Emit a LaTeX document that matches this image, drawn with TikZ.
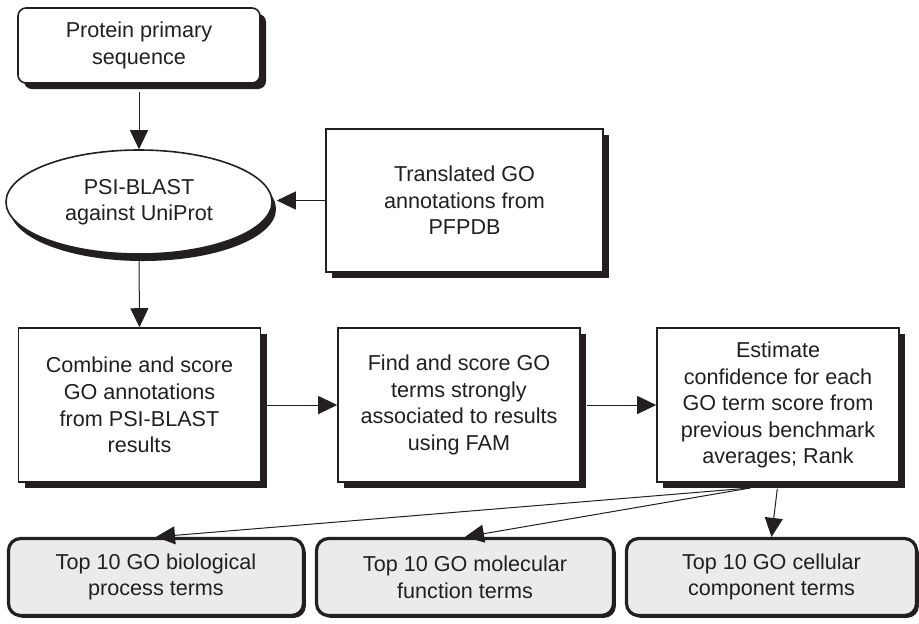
\documentclass[tikz,border=0pt]{standalone}
\usepackage{fontspec}
\setmainfont{Liberation Sans}
\usepackage{tikz}
\usetikzlibrary{arrows.meta,shapes.geometric,shadows}
\definecolor{ink}{RGB}{35,31,32}
\definecolor{paper}{RGB}{235,235,235}

\begin{document}
\begin{tikzpicture}[x=0.5pt,y=-0.5pt,font=\fontsize{10.8}{13.3}\selectfont,color=ink]

\tikzset{box/.style = {shape=rectangle,draw=ink,fill=white,line width=0.8pt,align=center,inner sep=0pt,
  minimum width=121pt,minimum height=77pt,
  drop shadow={shadow xshift=3pt,shadow yshift=-3pt,fill=ink,opacity=1}}}
\tikzset{roundbox/.style = {box,rounded corners=4pt}}
\tikzset{oval/.style = {shape=ellipse,draw=ink,fill=white,line width=0.8pt,align=center,inner sep=0pt,
  minimum width=133pt,minimum height=52pt,
  drop shadow={shadow xshift=2pt,shadow yshift=-3.5pt,fill=ink,opacity=1}}}
\tikzset{result/.style = {shape=rectangle,draw=ink,fill=paper,line width=1.6pt,rounded corners=6pt,
  align=center,inner sep=0pt,minimum height=38.5pt,
  drop shadow={shadow xshift=1.2pt,shadow yshift=-1.2pt,fill=ink,opacity=1}}}
\tikzset{arc/.style = {-{Triangle[length=9.5pt,width=9pt]},line width=0.5pt}}

\useasboundingbox (0,0) rectangle (919,623);

% steps
\node[roundbox,minimum height=37.5pt] (seq) at (139,45.5) {Protein primary\\sequence};
\node[oval] (blast) at (139,202) {PSI-BLAST\\against UniProt};
\node[box,minimum width=138.5pt,minimum height=71.5pt] (pfpdb) at (464.5,200.5) {Translated GO\\annotations from\\PFPDB};
\node[box] (combine) at (139.5,405) {Combine and score\\GO annotations\\from PSI-BLAST\\results};
\node[box] (fam) at (459,405) {Find and score GO\\terms strongly\\associated to results\\using FAM};
\node[box] (conf) at (778,405) {Estimate\\confidence for each\\GO term score from\\previous benchmark\\averages; Rank};

% results
\node[result,minimum width=147.5pt] (bp) at (156,577) {Top 10 GO biological\\process terms};
\node[result,minimum width=148.5pt] (mf) at (465,577) {Top 10 GO molecular\\function terms};
\node[result,minimum width=145pt] (cc) at (771.5,577) {Top 10 GO cellular\\component terms};
\coordinate (fan) at (750,488);

% arcs
\draw[arc,shorten <=4pt] (seq.south) -- (blast.north);
\draw[arc,shorten >=2pt] (pfpdb.west) -- (pfpdb.west -| blast.east);
\draw[arc,shorten <=3pt] (blast.south) -- (combine.north);
\draw[arc,shorten <=3pt] (combine.east) -- (fam.west);
\draw[arc,shorten <=3pt] (fam.east) -- (conf.west);
\draw[arc] (fan) -- (bp.north);
\draw[arc] (fan) -- (mf.north);
\draw[arc,shorten <=3pt] (conf.south) -- (cc.north);

\end{tikzpicture}
\end{document}
